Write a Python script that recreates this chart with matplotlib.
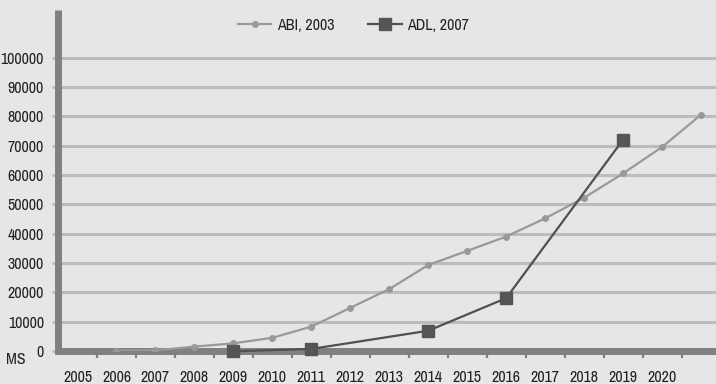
import matplotlib
matplotlib.use("Agg")
import matplotlib.pyplot as plt
from matplotlib.ticker import FixedLocator

categories = ["2005", "2006", "2007", "2008", "2009", "2010", "2011", "2012",
              "2013", "2014", "2015", "2016", "2017", "2018", "2019", "2020", ""]
abi_idx = list(range(1, 17))
abi_vals = [100, 200, 1500, 2600, 4500, 8300, 14700, 21100, 29300, 34100,
            39000, 45200, 52200, 60500, 69500, 80500]
adl_idx = [4, 6, 9, 11, 14]
adl_vals = [-100, 700, 6900, 18000, 72000]
yticks = list(range(0, 100001, 10000))

plt.rcParams['font.family'] = ['Archivo Narrow', 'Liberation Sans', 'DejaVu Sans']
FS = 11.5
tc = '#222222'

bg = '#e6e6e8'
fig = plt.figure(figsize=(7.16, 3.84), dpi=100, facecolor=bg)
ax = fig.add_axes([58/716, 33/384, 1 - 58/716, 341/384])
ax.set_facecolor(bg)

ax.set_xlim(-0.5, 16.385)
ax.set_ylim(0, 116200)

for v in yticks[1:]:
    ax.axhline(v, color='#bcbcbe', lw=2.2, zorder=1)

ax.plot(abi_idx, abi_vals, color='#999999', lw=1.6, marker='o', ms=4,
        markerfacecolor='#999999', markeredgecolor='#999999', label='ABI, 2003', zorder=3)
ax.plot(adl_idx, adl_vals, color='#505050', lw=1.6, marker='s', ms=8,
        markerfacecolor='#555555', markeredgecolor='#555555', label='ADL, 2007', zorder=4,
        clip_on=False)

for s in ['top', 'right']:
    ax.spines[s].set_visible(False)
for s in ['left', 'bottom']:
    ax.spines[s].set_color('#808080')
    ax.spines[s].set_linewidth(5)
    ax.spines[s].set_zorder(2)
ax.spines['left'].set_capstyle('butt')

ax.set_xticks(range(len(categories)))
ax.set_xticklabels(categories)
ax.xaxis.set_minor_locator(FixedLocator([i + 0.5 for i in range(16)]))
ax.tick_params(axis='x', which='major', length=0, pad=14, labelsize=FS, labelcolor=tc)
ax.tick_params(axis='x', which='minor', length=5, width=1.6, color='#808080', direction='out')

ax.set_yticks(yticks)
ax.set_yticklabels([str(v) for v in yticks])
ax.tick_params(axis='y', length=4, width=2, color='#bcbcbe', pad=6, labelsize=FS,
               labelcolor=tc)

fig.text(16/716, 1 - 360/384, 'MS', ha='center', va='center', fontsize=FS, color=tc)

leg = ax.legend(loc='center', bbox_to_anchor=(0.449, 1 - 15/341), ncol=2, frameon=False,
                fontsize=FS, handlelength=2.1, columnspacing=2.1, handletextpad=0.35,
                labelcolor=tc)

fig.savefig('out.png', dpi=100, facecolor=bg)
